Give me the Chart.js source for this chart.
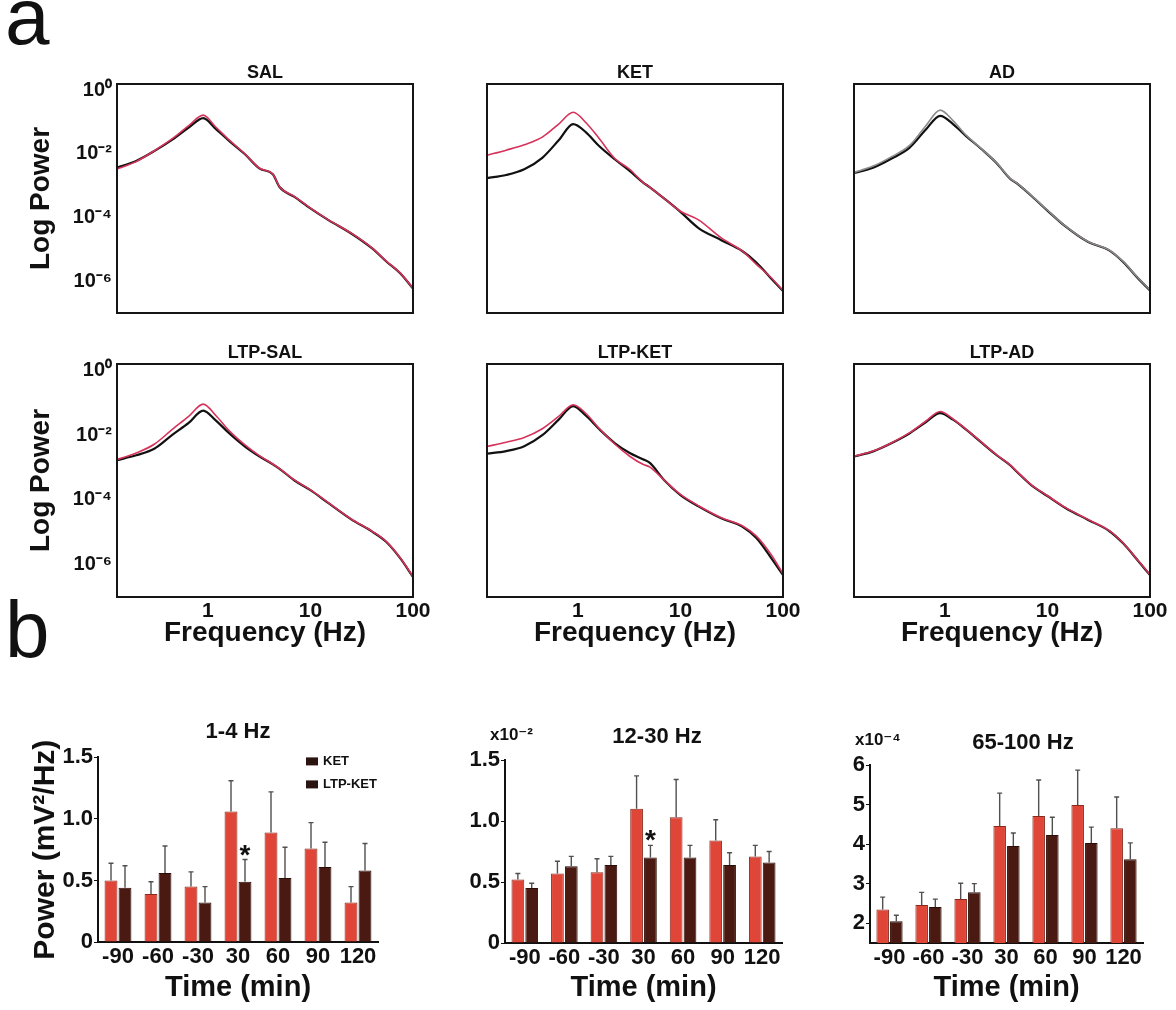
<!DOCTYPE html>
<html>
<head>
<meta charset="utf-8">
<script src="https://cdn.jsdelivr.net/npm/chart.js@4.4.1/dist/chart.umd.min.js"></script>
<style>
  html, body { margin: 0; padding: 0; background: #fff; overflow: hidden; }
  body { position: relative; width: 1176px; height: 1010px; font-family: "Liberation Sans", Arial, sans-serif; }
  canvas { position: absolute; }
  .letter { position: absolute; font-size: 80px; line-height: 80px; color: #111; }
</style>
</head>
<body>
<div class="letter" style="left:5px;top:-23px">a</div>
<div class="letter" style="left:5px;top:590px">b</div>

<canvas id="sal" width="440" height="283" style="left:0;top:50px"></canvas>
<canvas id="ket" width="350" height="283" style="left:460px;top:50px"></canvas>
<canvas id="ad" width="350" height="283" style="left:827px;top:50px"></canvas>
<canvas id="ltpSal" width="440" height="322" style="left:0;top:330px"></canvas>
<canvas id="ltpKet" width="350" height="322" style="left:460px;top:330px"></canvas>
<canvas id="ltpAd" width="350" height="322" style="left:827px;top:330px"></canvas>
<canvas id="delta" width="480" height="310" style="left:0;top:700px"></canvas>
<canvas id="beta" width="474" height="310" style="left:420px;top:700px"></canvas>
<canvas id="gamma" width="446" height="310" style="left:800px;top:700px"></canvas>

<script>
Chart.defaults.font.family = '"Liberation Sans", Arial, sans-serif';
Chart.defaults.font.weight = 'bold';
Chart.defaults.color = '#111';
Chart.defaults.animation = false;

// spectra: frequency grid (Hz) and log10 power; base = black trace, post = red trace
const freqHz = [0.13, 0.2, 0.3, 0.45, 0.65, 0.9, 1.2, 1.6, 2.3, 3.2, 4.3, 5, 7, 10, 15, 25, 40, 55, 75, 100];

const salBase = [-2.43, -2.22, -1.91, -1.55, -1.17, -0.87, -1.22, -1.58, -2.01, -2.46, -2.64, -3.04, -3.35, -3.71, -4.08, -4.50, -4.97, -5.38, -5.75, -6.23];
const salPost = [-2.47, -2.24, -1.90, -1.52, -1.11, -0.78, -1.16, -1.55, -2.00, -2.45, -2.63, -3.03, -3.34, -3.70, -4.07, -4.49, -4.96, -5.37, -5.74, -6.22];

const ketBase = [-2.76, -2.66, -2.48, -2.12, -1.57, -1.06, -1.32, -1.74, -2.17, -2.53, -2.89, -3.04, -3.41, -3.82, -4.33, -4.71, -5.05, -5.41, -5.88, -6.31];
const ketPost = [-2.04, -1.88, -1.71, -1.47, -1.06, -0.69, -1.02, -1.50, -2.15, -2.48, -2.89, -3.04, -3.41, -3.80, -4.07, -4.64, -5.05, -5.47, -5.86, -6.29];

const adBase = [-2.60, -2.43, -2.15, -1.81, -1.24, -0.80, -1.06, -1.43, -1.86, -2.29, -2.77, -2.92, -3.32, -3.78, -4.28, -4.77, -5.03, -5.40, -5.88, -6.29];
const adPost = [-2.58, -2.38, -2.09, -1.74, -1.12, -0.62, -0.95, -1.40, -1.85, -2.28, -2.76, -2.91, -3.31, -3.77, -4.27, -4.76, -5.02, -5.39, -5.87, -6.28];

const ltpSalBase = [-2.77, -2.62, -2.42, -1.99, -1.62, -1.24, -1.55, -1.93, -2.35, -2.66, -2.90, -3.04, -3.40, -3.70, -4.10, -4.60, -4.98, -5.30, -5.80, -6.38];
const ltpSalPost = [-2.75, -2.55, -2.28, -1.82, -1.42, -1.04, -1.40, -1.85, -2.30, -2.64, -2.89, -3.03, -3.39, -3.69, -4.09, -4.59, -4.97, -5.29, -5.79, -6.37];

const ltpKetBase = [-2.57, -2.49, -2.34, -2.00, -1.52, -1.10, -1.40, -1.80, -2.25, -2.55, -2.74, -2.85, -3.40, -3.85, -4.20, -4.57, -4.82, -5.18, -5.75, -6.32];
const ltpKetPost = [-2.35, -2.22, -2.07, -1.80, -1.42, -1.06, -1.33, -1.78, -2.28, -2.65, -2.90, -2.98, -3.40, -3.83, -4.18, -4.55, -4.80, -5.12, -5.65, -6.28];

const ltpAdBase = [-2.66, -2.50, -2.25, -1.95, -1.60, -1.32, -1.52, -1.82, -2.24, -2.62, -2.92, -3.12, -3.55, -3.88, -4.25, -4.62, -4.96, -5.35, -5.85, -6.32];
const ltpAdPost = [-2.65, -2.49, -2.24, -1.93, -1.57, -1.27, -1.50, -1.81, -2.23, -2.61, -2.91, -3.11, -3.54, -3.87, -4.24, -4.61, -4.95, -5.34, -5.84, -6.31];

const freqTicks = [1, 10, 100];
const powerTicks = [1e-6, 1e-4, 1e-2, 1];

// band power per time point (mean and SEM)
const timeMin = ['-90', '-60', '-30', '30', '60', '90', '120'];

const deltaKet = [0.50, 0.39, 0.45, 1.06, 0.89, 0.76, 0.32];
const deltaKetSem = [0.14, 0.10, 0.12, 0.25, 0.33, 0.21, 0.13];
const deltaLtp = [0.44, 0.56, 0.32, 0.49, 0.52, 0.61, 0.58];
const deltaLtpSem = [0.18, 0.22, 0.13, 0.18, 0.25, 0.20, 0.22];
const deltaSig = ['', '', '', '*', '', '', ''];

// x10^-2
const betaKet = [0.52, 0.57, 0.58, 1.10, 1.03, 0.84, 0.71];
const betaKetSem = [0.05, 0.10, 0.11, 0.27, 0.31, 0.17, 0.09];
const betaLtp = [0.45, 0.63, 0.64, 0.70, 0.70, 0.64, 0.66];
const betaLtpSem = [0.04, 0.08, 0.07, 0.10, 0.10, 0.10, 0.09];
const betaSig = ['', '', '', '*', '', '', ''];

// x10^-4
const gammaKet = [2.35, 2.46, 2.61, 4.46, 4.71, 4.99, 4.40];
const gammaKetSem = [0.31, 0.32, 0.40, 0.83, 0.91, 0.88, 0.79];
const gammaLtp = [2.05, 2.41, 2.78, 3.95, 4.23, 4.03, 3.62];
const gammaLtpSem = [0.15, 0.20, 0.22, 0.33, 0.45, 0.40, 0.41];

const sup = { '-': '\u207B', '0': '\u2070', '1': '\u00B9', '2': '\u00B2', '3': '\u00B3', '4': '\u2074', '5': '\u2075', '6': '\u2076', '7': '\u2077', '8': '\u2078', '9': '\u2079' };
const powLabel = v => '10' + String(Math.round(Math.log10(v))).split('').map(c => sup[c]).join('');

// box around the plotting area
const frame = {
  id: 'frame',
  afterDatasetsDraw(chart) {
    const { ctx, chartArea: a } = chart;
    ctx.save();
    ctx.strokeStyle = '#151515';
    ctx.lineWidth = 2;
    ctx.strokeRect(a.left, a.top, a.width, a.height);
    ctx.restore();
  }
};

// upper SEM whiskers and significance stars
const errorBars = {
  id: 'errorBars',
  afterDatasetsDraw(chart) {
    const { ctx } = chart;
    const y = chart.scales.y;
    ctx.save();
    chart.data.datasets.forEach((ds, di) => {
      chart.getDatasetMeta(di).data.forEach((bar, i) => {
        const top = y.getPixelForValue(ds.data[i] + ds.sem[i]);
        ctx.strokeStyle = '#505050';
        ctx.lineWidth = 1.4;
        ctx.beginPath();
        ctx.moveTo(bar.x, bar.y);
        ctx.lineTo(bar.x, top);
        ctx.moveTo(bar.x - 2.5, top);
        ctx.lineTo(bar.x + 2.5, top);
        ctx.stroke();
        if (ds.sig && ds.sig[i]) {
          ctx.fillStyle = '#111';
          ctx.font = 'bold 28px "Liberation Sans", Arial, sans-serif';
          ctx.textAlign = 'center';
          ctx.textBaseline = 'alphabetic';
          ctx.fillText(ds.sig[i], bar.x, top + 4);
        }
      });
    });
    ctx.restore();
  }
};

// small legend in the top right corner of the plot
const boxLegend = {
  id: 'boxLegend',
  afterDraw(chart, args, opts) {
    if (!opts.display) return;
    const { ctx, chartArea: a } = chart;
    ctx.save();
    ctx.font = 'bold 13px "Liberation Sans", Arial, sans-serif';
    ctx.textBaseline = 'middle';
    ctx.textAlign = 'left';
    chart.data.datasets.forEach((ds, i) => {
      const x = a.right - 72, y = a.top + 4 + i * 23;
      ctx.fillStyle = '#2b1410';
      ctx.fillRect(x, y - 4, 12, 8);
      ctx.fillStyle = '#111';
      ctx.fillText(ds.label, x + 17, y);
    });
    ctx.restore();
  }
};

// axis multiplier above the y axis
const scaleNote = {
  id: 'scaleNote',
  afterDraw(chart, args, opts) {
    if (!opts.text) return;
    const { ctx, chartArea: a } = chart;
    ctx.save();
    ctx.font = 'bold 17px "Liberation Sans", "DejaVu Sans", Arial, sans-serif';
    ctx.fillStyle = '#111';
    ctx.textBaseline = 'middle';
    ctx.textAlign = 'left';
    ctx.fillText(opts.text, a.left - 15, a.top - 25);
    ctx.restore();
  }
};

function spectrum(id, title, base, post, opt) {
  const pts = arr => freqHz.map((f, i) => ({ x: f, y: Math.pow(10, arr[i]) }));
  new Chart(document.getElementById(id), {
    type: 'line',
    data: {
      datasets: [
        { data: pts(post), borderColor: opt.postColor || '#d6335a', borderWidth: 1.6 },
        { data: pts(base), borderColor: '#111', borderWidth: 2.2 },
      ]
    },
    options: {
      responsive: false,
      // top row keeps 20px below the box so the lowest tick label does not squeeze the plot
      layout: { padding: { left: opt.showY ? 24 : 0, right: 27, top: 12.4, bottom: opt.showX ? 0 : 20 } },
      elements: { point: { radius: 0 }, line: { cubicInterpolationMode: 'monotone' } },
      plugins: {
        legend: { display: false },
        tooltip: { enabled: false },
        title: { display: true, text: title, fullSize: false, font: { size: 18, weight: 'bold' }, padding: { top: 0, bottom: 0 }, color: '#111' },
      },
      scales: {
        x: {
          type: 'logarithmic', min: 0.13, max: 100, display: opt.showX,
          afterBuildTicks: s => { s.ticks = freqTicks.map(v => ({ value: v })); },
          grid: { display: false, drawTicks: false },
          border: { display: false },
          ticks: { font: { size: 21 }, padding: 2, color: '#111', callback: v => String(v) },
          title: { display: true, text: 'Frequency (Hz)', font: { size: 28 }, padding: { top: 0, bottom: 2 }, color: '#111' },
          afterFit: s => { s.height = opt.showX ? 55 : 0; }
        },
        y: {
          type: 'logarithmic', min: 1e-7, max: Math.pow(10, 0.2),
          afterBuildTicks: s => { s.ticks = powerTicks.map(v => ({ value: v })); },
          grid: { display: false, drawTicks: false },
          border: { display: false },
          ticks: { display: opt.showY, font: { size: 20 }, padding: 5, color: '#111', callback: v => powLabel(v) },
          title: { display: opt.showY, text: 'Log Power', font: { size: 28 }, padding: { top: 0, bottom: 0 }, color: '#111' },
          afterFit: s => { s.width = opt.showY ? 93 : 27; }
        }
      }
    },
    plugins: [frame]
  });
}

spectrum('sal', 'SAL', salBase, salPost, { showY: true, showX: false });
spectrum('ket', 'KET', ketBase, ketPost, { showY: false, showX: false });
spectrum('ad', 'AD', adBase, adPost, { showY: false, showX: false, postColor: '#8e8a8c' });
spectrum('ltpSal', 'LTP-SAL', ltpSalBase, ltpSalPost, { showY: true, showX: true });
spectrum('ltpKet', 'LTP-KET', ltpKetBase, ltpKetPost, { showY: false, showX: true });
spectrum('ltpAd', 'LTP-AD', ltpAdBase, ltpAdPost, { showY: false, showX: true });

function bandChart(id, title, ket, ketSem, ltp, ltpSem, sig, cfg) {
  const bar = { categoryPercentage: 0.7, barPercentage: 0.92, borderWidth: 1 };
  const scales = {
    x: {
      grid: { display: false, drawTicks: false },
      border: { color: '#111', width: 2 },
      ticks: { font: { size: 22 }, padding: 2, color: '#111', maxRotation: 0, minRotation: 0, autoSkip: false },
      title: { display: true, text: 'Time (min)', font: { size: 29 }, padding: { top: 0, bottom: 5 }, color: '#111' },
      afterFit: s => { s.height = cfg.xh; }
    },
    y: {
      min: cfg.min, max: cfg.max,
      afterBuildTicks: s => { s.ticks = cfg.ticks.map(v => ({ value: v })); },
      grid: { drawOnChartArea: false, drawTicks: true, tickLength: 4, color: '#111' },
      border: { color: '#111', width: 2 },
      ticks: { font: { size: 22 }, padding: 1, color: '#111', callback: cfg.fmt },
      title: { display: !!cfg.yTitle, text: cfg.yTitle || '', font: { size: 30 }, padding: { top: 0, bottom: 0 }, color: '#111' },
      afterFit: s => { s.width = cfg.yw; }
    }
  };
  // empty right-hand axis: only reserves room so the title sits right of centre
  if (cfg.titleShift) {
    scales.pad = {
      position: 'right', display: true,
      grid: { display: false, drawTicks: false }, border: { display: false }, ticks: { display: false },
      afterFit: s => { s.width = cfg.titleShift; }
    };
  }
  new Chart(document.getElementById(id), {
    type: 'bar',
    data: {
      labels: timeMin,
      datasets: [
        Object.assign({ label: 'KET', data: ket, sem: ketSem, backgroundColor: '#e04638', borderColor: '#8a2a1e' }, bar),
        Object.assign({ label: 'LTP-KET', data: ltp, sem: ltpSem, sig: sig, backgroundColor: '#4a1a12', borderColor: '#2a0d08' }, bar),
      ]
    },
    options: {
      responsive: false,
      layout: { padding: cfg.padding },
      plugins: {
        legend: { display: false },
        tooltip: { enabled: false },
        title: { display: true, text: title, fullSize: !!cfg.titleShift, font: { size: 22, weight: 'bold' }, padding: { top: 0, bottom: cfg.titleGap }, color: '#111' },
        boxLegend: { display: !!cfg.legend },
        scaleNote: { text: cfg.note || '' },
      },
      scales
    },
    plugins: [errorBars, boxLegend, scaleNote]
  });
}

const oneDecimal = v => v === 0 ? '0' : v.toFixed(1);

bandChart('delta', '1-4 Hz', deltaKet, deltaKetSem, deltaLtp, deltaLtpSem, deltaSig, {
  padding: { left: 28, top: 19, right: 102, bottom: 0 }, titleGap: 12, xh: 68, yw: 70,
  min: 0, max: 1.5, ticks: [0, 0.5, 1, 1.5], fmt: oneDecimal, yTitle: 'Power (mV\u00B2/Hz)', legend: true
});
bandChart('beta', '12-30 Hz', betaKet, betaKetSem, betaLtp, betaLtpSem, betaSig, {
  padding: { left: 35, top: 23.8, right: 35, bottom: 0 }, titleGap: 9.8, xh: 67, yw: 50, titleShift: 77,
  min: 0, max: 1.5, ticks: [0, 0.5, 1, 1.5], fmt: oneDecimal, note: 'x10\u207B\u00B2'
});
bandChart('gamma', '65-100 Hz', gammaKet, gammaKetSem, gammaLtp, gammaLtpSem, null, {
  padding: { left: 40, top: 29.8, right: 40, bottom: 0 }, titleGap: 8.8, xh: 67, yw: 30, titleShift: 63,
  min: 1.5, max: 6, ticks: [2, 3, 4, 5, 6], fmt: v => String(v), note: 'x10\u207B\u2074'
});
</script>
</body>
</html>
